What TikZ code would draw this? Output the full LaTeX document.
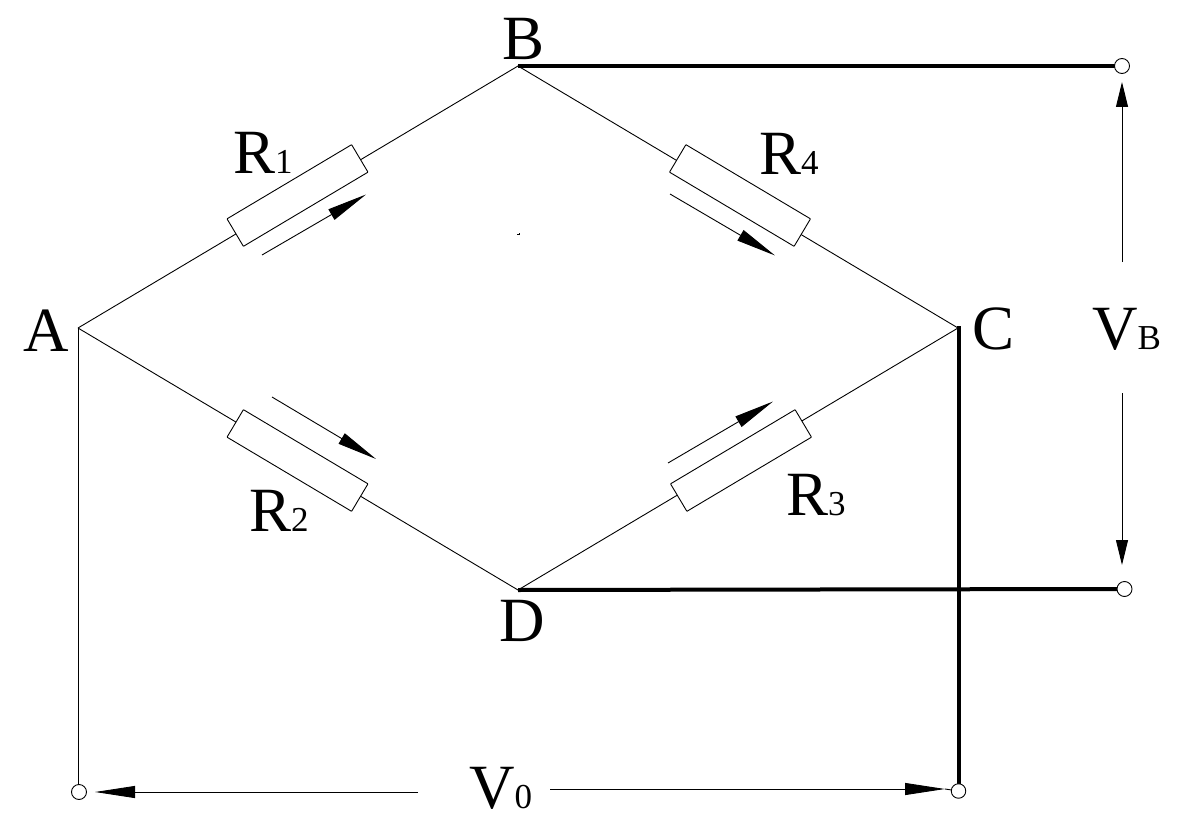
\documentclass[tikz,border=0pt]{standalone}
\usepackage{fontspec}
\setmainfont{Liberation Serif}
\usetikzlibrary{arrows.meta}
\newcommand{\biglabel}[2]{{\fontsize{63}{63}\selectfont #1\fontsize{35}{35}\selectfont #2}}
\tikzset{
  x=1pt,y=-1pt,
  wire/.style={draw=black,line width=0.9pt},
  heavy/.style={draw=black,line width=4pt},
  resistor/.style={draw=black,fill=white,line width=0.9pt,rectangle,minimum width=145pt,minimum height=32pt,inner sep=0pt,rounded corners=0.5pt},
  terminal/.style={draw=black,fill=white,line width=0.9pt,circle,minimum size=15pt,inner sep=0pt},
  longhead/.style={wire,-{Triangle[length=40pt,width=12pt]},shorten >=0pt},
  shorthead/.style={wire,-{Triangle[length=25pt,width=12pt]}},
  lab/.style={anchor=base west,inner sep=0pt,text=black},
}
\begin{document}
\begin{tikzpicture}
\useasboundingbox (0,0) rectangle (1181,840);
\fill[white] (0,0) rectangle (1181,840);
% bridge junctions
\coordinate (A) at (78,328);
\coordinate (B) at (518,66);
\coordinate (C) at (958,328);
\coordinate (D) at (518,590);
% wires
\draw[wire] (A) -- (B) -- (C) -- (D) -- (A);
% terminals and heavy leads
\draw[heavy] (B) -- (1115,66);
\draw[heavy] (D) -- (1117,589);
\draw[heavy] (958.5,326) -- (958.5,785);
\draw[wire] (A) -- (78,785);
\node[terminal] (TB) at (1122,66) {};
\node[terminal] (TD) at (1124.5,589) {};
\node[terminal,minimum size=14.5pt] (TC) at (958.5,791) {};
\node[terminal] (TA) at (79,792) {};
% resistors
\node[resistor,rotate=30.77] (R1) at (297.5,195.5) {};
\node[resistor,rotate=-30.77] (R4) at (740,195.5) {};
\node[resistor,rotate=-30.77] (R2) at (297.5,460.5) {};
\node[resistor,rotate=30.77] (R3) at (741,460.5) {};
% current arrows
\coordinate (a1s) at (262,255); \coordinate (a1e) at (366,194.5);
\coordinate (a4s) at (670,194); \coordinate (a4e) at (775,255.5);
\coordinate (a2s) at (272,397); \coordinate (a2e) at (376,459);
\coordinate (a3s) at (668,463); \coordinate (a3e) at (773,401.5);
\draw[longhead] (a1s) -- (a1e);
\draw[longhead] (a4s) -- (a4e);
\draw[longhead] (a2s) -- (a2e);
\draw[longhead] (a3s) -- (a3e);
% voltage arrows
\coordinate (vbu) at (1122,262); \coordinate (vbut) at (1122,82);
\coordinate (vbd) at (1122,393); \coordinate (vbdt) at (1122,565);
\coordinate (v0l) at (418,792); \coordinate (v0lt) at (95,792);
\coordinate (v0r) at (550,789); \coordinate (v0rt) at (945,789);
\draw[shorthead] (vbu) -- (vbut);
\draw[shorthead] (vbd) -- (vbdt);
\draw[longhead] (v0l) -- (v0lt);
\draw[longhead] (v0r) -- (v0rt);
\draw[wire] (v0rt) -- (TC);
% stray mark
\fill[black] (517,234) rectangle (520,235);
\fill[black] (519,233) rectangle (520,235);
% labels
\node[lab] (lA) at (23,351) {\biglabel{A}{}};
\node[lab] (lB) at (502,60) {\biglabel{B}{}};
\node[lab] (lC) at (972,349) {\biglabel{C}{}};
\node[lab] (lD) at (499,641) {\biglabel{D}{}};
\node[lab] (lR1) at (233,174) {\biglabel{R}{1}};
\node[lab] (lR4) at (759,175) {\biglabel{R}{4}};
\node[lab] (lR2) at (249,531) {\biglabel{R}{2}};
\node[lab] (lR3) at (786,515) {\biglabel{R}{3}};
\node[lab] (lVB) at (1092,349) {\biglabel{V}{B}};
\node[lab] (lV0) at (469,808) {\biglabel{V}{0}};
\end{tikzpicture}
\end{document}
